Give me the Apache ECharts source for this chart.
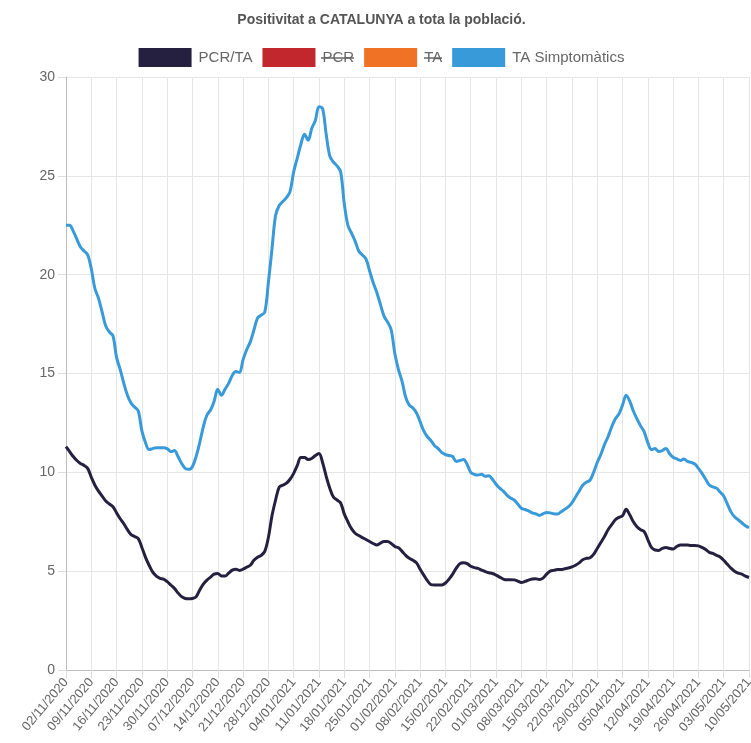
<!DOCTYPE html>
<html><head><meta charset="utf-8">
<script src="https://cdn.jsdelivr.net/npm/echarts@6/dist/echarts.min.js"></script>
<style>html,body{margin:0;padding:0;background:#fff;overflow:hidden}#c{width:763px;height:743px}</style>
</head><body><div id="c"></div>
<script>
const startDate = [2020, 11, 2];
const dayCount = 190;
const seriesNames = ['PCR/TA', 'PCR', 'TA', 'TA Simptomàtics'];
const pcrTa = [11.3,11.05,10.8,10.6,10.45,10.35,10.2,9.75,9.35,9.05,8.8,8.55,8.4,8.26,7.95,7.65,7.4,7.1,6.85,6.75,6.65,6.2,5.7,5.3,4.95,4.75,4.64,4.6,4.47,4.3,4.13,3.9,3.71,3.62,3.6,3.62,3.7,4.05,4.35,4.55,4.7,4.85,4.88,4.76,4.75,4.9,5.05,5.1,5.04,5.1,5.2,5.3,5.55,5.7,5.8,6.0,6.7,7.8,8.6,9.25,9.35,9.45,9.65,9.95,10.35,10.75,10.75,10.65,10.7,10.85,10.95,10.5,9.8,9.2,8.75,8.6,8.45,7.9,7.5,7.15,6.92,6.8,6.7,6.6,6.5,6.4,6.32,6.42,6.5,6.5,6.4,6.25,6.18,6.0,5.8,5.65,5.55,5.42,5.1,4.8,4.52,4.32,4.3,4.3,4.3,4.4,4.6,4.85,5.15,5.38,5.42,5.38,5.25,5.18,5.14,5.05,4.98,4.92,4.88,4.8,4.7,4.6,4.56,4.57,4.56,4.5,4.43,4.48,4.55,4.6,4.62,4.58,4.65,4.85,5.0,5.04,5.08,5.08,5.12,5.16,5.22,5.3,5.42,5.58,5.65,5.68,5.85,6.15,6.45,6.75,7.1,7.35,7.6,7.72,7.8,8.13,7.85,7.5,7.25,7.1,7.0,6.6,6.2,6.07,6.05,6.15,6.2,6.15,6.12,6.25,6.32,6.33,6.32,6.3,6.3,6.28,6.2,6.1,5.95,5.9,5.8,5.72,5.55,5.35,5.15,5.0,4.9,4.85,4.75,4.68];
const taSimpt = [22.5,22.5,22.2,21.8,21.4,21.2,21.0,20.3,19.3,18.8,18.1,17.4,17.1,16.9,15.8,15.2,14.5,13.9,13.5,13.3,13.1,12.1,11.5,11.15,11.2,11.25,11.25,11.25,11.2,11.05,11.1,10.8,10.45,10.2,10.15,10.3,10.8,11.5,12.3,12.9,13.15,13.6,14.2,13.9,14.2,14.5,14.9,15.1,15.05,15.7,16.2,16.6,17.2,17.8,17.95,18.1,19.6,21.3,23.0,23.5,23.7,23.9,24.2,25.2,25.9,26.6,27.1,26.8,27.4,27.8,28.5,28.4,27.1,26.0,25.7,25.5,25.2,23.6,22.5,22.1,21.7,21.2,21.0,20.8,20.2,19.6,19.1,18.5,17.9,17.6,17.2,16.0,15.2,14.6,13.8,13.4,13.25,13.0,12.55,12.1,11.8,11.6,11.35,11.2,11.0,10.9,10.85,10.8,10.55,10.6,10.65,10.4,10.0,9.9,9.86,9.9,9.8,9.83,9.65,9.4,9.2,9.05,8.85,8.7,8.6,8.4,8.18,8.12,8.05,7.95,7.9,7.82,7.9,7.97,7.95,7.9,7.89,8.0,8.13,8.25,8.45,8.75,9.05,9.35,9.5,9.6,10.0,10.5,10.9,11.4,11.8,12.3,12.7,12.95,13.4,13.9,13.6,13.1,12.7,12.35,12.05,11.5,11.15,11.2,11.05,11.1,11.2,10.95,10.76,10.68,10.6,10.68,10.55,10.5,10.42,10.2,9.95,9.65,9.36,9.26,9.2,9.0,8.8,8.4,8.0,7.75,7.6,7.45,7.3,7.2];
const pcr = [];
const ta = [];
const yTicks = [0, 5, 10, 15, 20, 25, 30];
const colors = ['#25203f', '#c1272d', '#f07224', '#389ad9'];

function pad(n){return (n<10?'0':'')+n;}
const dates = [];
const d0 = new Date(Date.UTC(startDate[0], startDate[1]-1, startDate[2]));
for (let i = 0; i < dayCount; i++) {
  const d = new Date(d0.getTime() + i*86400000);
  dates.push(pad(d.getUTCDate()) + '/' + pad(d.getUTCMonth()+1) + '/' + d.getUTCFullYear());
}

const FONT = 'Liberation Sans, Arial, Helvetica, sans-serif';
const chart = echarts.init(document.getElementById('c'), null, {renderer: 'canvas'});
const lineSeries = (name, data, color) => ({
  name, type: 'line', data, smooth: 0.35, showSymbol: false, symbol: 'none',
  lineStyle: {color, width: 3}, itemStyle: {color}, animation: false
});
chart.setOption({
  animation: false,
  color: colors,
  title: {
    text: 'Positivitat a CATALUNYA a tota la població.',
    left: 'center', top: 8,
    textStyle: {fontFamily: FONT, fontSize: 14, fontWeight: 'bold', color: '#555'}
  },
  legend: {
    data: seriesNames,
    top: 43, left: 'center',
    icon: 'rect', itemWidth: 53, itemHeight: 19, itemGap: 10,
    textStyle: {fontFamily: FONT, fontSize: 15, color: '#666', padding: [0,0,0,2]},
    selectedMode: false
  },
  grid: {left: 66, right: 14, top: 77, bottom: 73, containLabel: false, outerBoundsMode: 'none'},
  xAxis: {
    type: 'category', data: dates, boundaryGap: false,
    axisLine: {lineStyle: {color: '#bdbdbd', width: 1}},
    axisTick: {show: true, interval: 6, length: 8, lineStyle: {color: '#dcdcdc'}},
    axisLabel: {interval: 6, rotate: 50, margin: 10, fontFamily: FONT, fontSize: 13, color: '#666'},
    splitLine: {show: true, interval: 6, lineStyle: {color: '#e6e6e6', width: 1}}
  },
  yAxis: {
    type: 'value', min: yTicks[0], max: yTicks[yTicks.length-1], interval: 5,
    axisLine: {show: true, lineStyle: {color: '#bdbdbd', width: 1}},
    axisTick: {show: true, length: 8, lineStyle: {color: '#dcdcdc'}},
    axisLabel: {margin: 11, fontFamily: FONT, fontSize: 14, color: '#666'},
    splitLine: {show: true, lineStyle: {color: '#e6e6e6', width: 1}}
  },
  series: [
    lineSeries(seriesNames[0], pcrTa, colors[0]),
    lineSeries(seriesNames[1], pcr, colors[1]),
    lineSeries(seriesNames[2], ta, colors[2]),
    lineSeries(seriesNames[3], taSimpt, colors[3])
  ],
  graphic: [
    {type: 'line', shape: {x1: 321, y1: 58, x2: 354, y2: 58}, style: {stroke: '#666', lineWidth: 1.5}, z: 100},
    {type: 'line', shape: {x1: 424, y1: 58, x2: 442, y2: 58}, style: {stroke: '#666', lineWidth: 1.5}, z: 100}
  ]
});
</script></body></html>
